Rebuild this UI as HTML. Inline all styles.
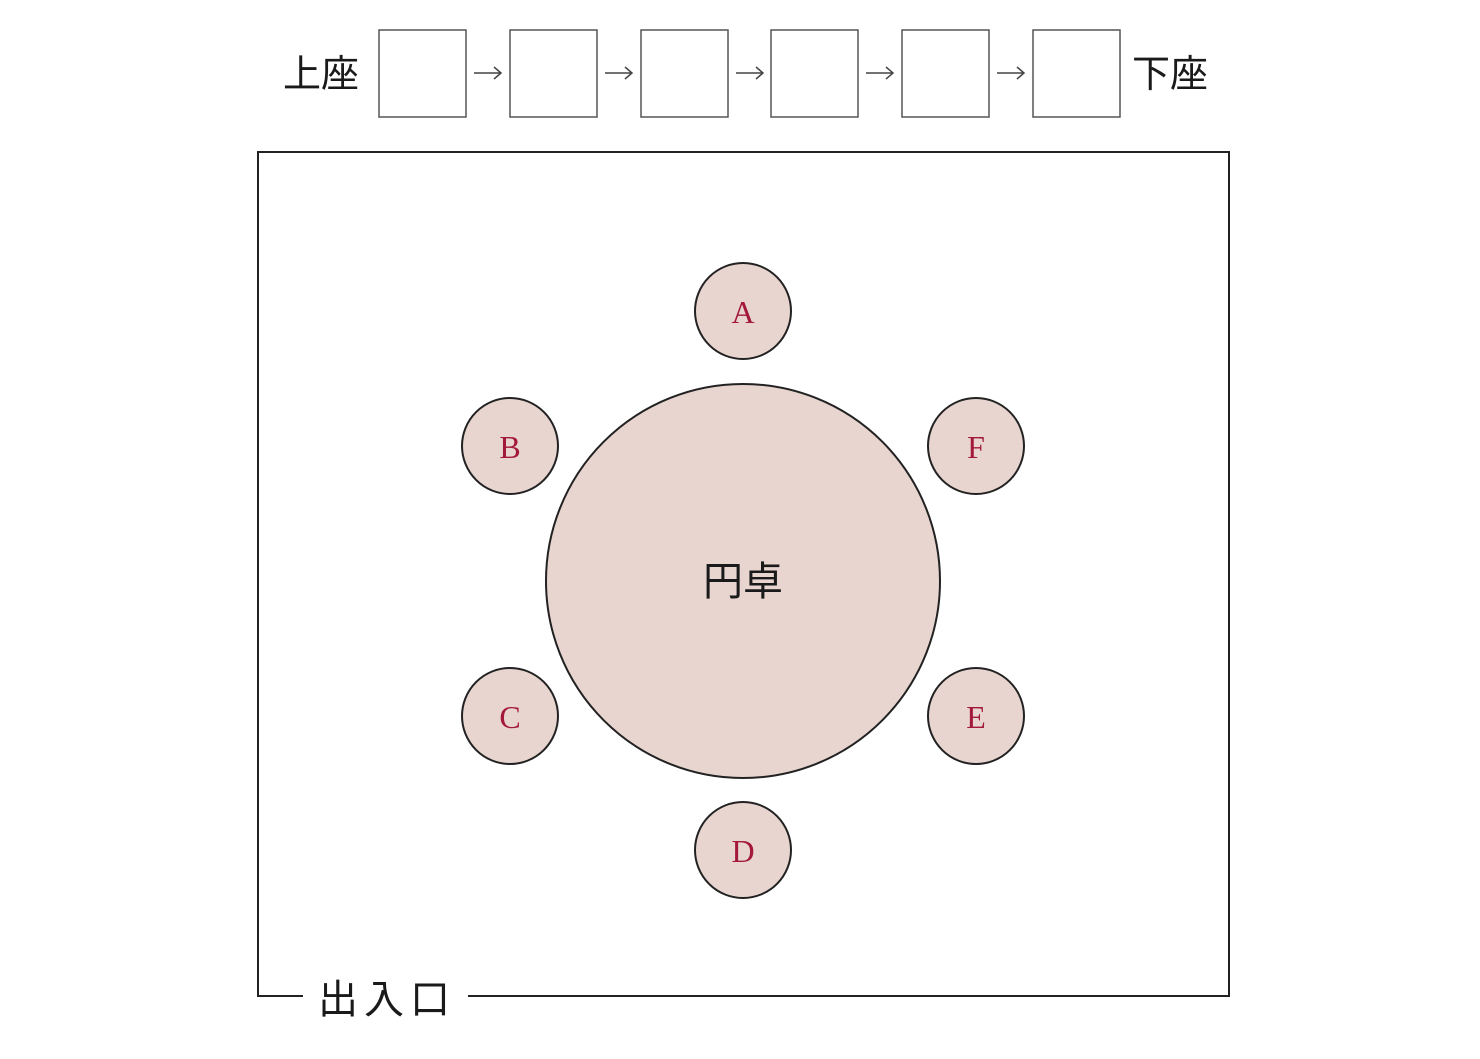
<!DOCTYPE html>
<html><head><meta charset="utf-8"><style>
html,body{margin:0;padding:0;background:#fff;}
svg{display:block;}
.jp{font-family:"Liberation Sans","Noto Sans CJK JP",sans-serif;fill:#1a1a1a;}
.lt{font-family:"Liberation Serif",serif;fill:#a3193b;font-size:32px;}
</style></head><body>
<svg width="1480" height="1059" viewBox="0 0 1480 1059" xmlns="http://www.w3.org/2000/svg">
<text class="jp" x="321" y="87" font-size="38" text-anchor="middle">上座</text>
<text class="jp" x="1170" y="87" font-size="38" text-anchor="middle">下座</text>
<g fill="#fff" stroke="#555" stroke-width="1.5">
<rect x="379" y="30" width="87" height="87"/>
<rect x="510" y="30" width="87" height="87"/>
<rect x="641" y="30" width="87" height="87"/>
<rect x="771" y="30" width="87" height="87"/>
<rect x="902" y="30" width="87" height="87"/>
<rect x="1033" y="30" width="87" height="87"/>
</g>
<g fill="none" stroke="#444" stroke-width="1.5">
<path d="M474 73 H501 M494 67 L501 73 L494 79"/>
<path d="M605 73 H632 M625 67 L632 73 L625 79"/>
<path d="M736 73 H763 M756 67 L763 73 L756 79"/>
<path d="M866 73 H893 M886 67 L893 73 L886 79"/>
<path d="M997 73 H1024 M1017 67 L1024 73 L1017 79"/>
</g>
<path d="M303 996 H258 V152 H1229 V996 H468" fill="none" stroke="#222" stroke-width="2"/>
<text class="jp" x="387" y="1013" font-size="40" text-anchor="middle" letter-spacing="6">出入口</text>
<g fill="#e8d5d0" stroke="#222" stroke-width="2">
<circle cx="743" cy="581" r="197"/>
<circle cx="743" cy="311" r="48"/>
<circle cx="510" cy="446" r="48"/>
<circle cx="976" cy="446" r="48"/>
<circle cx="510" cy="716" r="48"/>
<circle cx="976" cy="716" r="48"/>
<circle cx="743" cy="850" r="48"/>
</g>
<text class="jp" x="743" y="595" font-size="40" text-anchor="middle">円卓</text>
<g class="lt" text-anchor="middle">
<text x="743" y="323">A</text>
<text x="510" y="458">B</text>
<text x="976" y="458">F</text>
<text x="510" y="728">C</text>
<text x="976" y="728">E</text>
<text x="743" y="862">D</text>
</g>
</svg>
</body></html>
